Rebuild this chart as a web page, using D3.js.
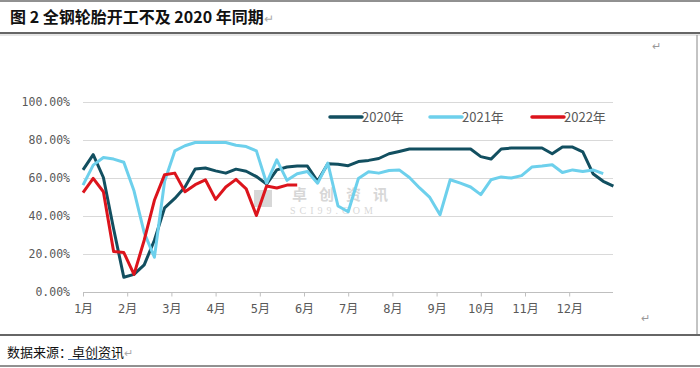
<!DOCTYPE html>
<html>
<head>
<meta charset="utf-8">
<script src="https://cdn.jsdelivr.net/npm/d3@7"></script>
<style>
  body { margin: 0; background: #fff; }
  svg { display: block; font-family: "Noto Sans CJK SC", sans-serif; }
</style>
</head>
<body>
<div id="chart"></div>
<script>
// month labels on the category axis
const months = ["1月", "2月", "3月", "4月", "5月", "6月", "7月", "8月", "9月", "10月", "11月", "12月"];
const yTicks = [0, 20, 40, 60, 80, 100];
const seriesNames = ["2020年", "2021年", "2022年"];
const seriesColors = ["#124f60", "#6dd0ec", "#dc141c"];

// weekly operating rate, %
const s2020 = [64, 72, 60, 33, 7.5, 9, 14, 27, 44, 49, 55, 64.5, 65, 63.5, 62.3, 64.4, 63.3, 60.5, 56.5, 64,
  65.5, 66, 66, 58, 67.3, 67, 66.2, 68.4, 69, 70, 72.5, 73.7, 75, 75, 75, 75, 75, 75, 75, 71,
  69.7, 75, 75.5, 75.5, 75.5, 75.5, 72.5, 76, 76, 73.5, 62, 58, 55.5];
const s2021 = [56, 66.5, 70.5, 69.7, 68, 53, 31, 18, 58, 74, 76.7, 78.4, 78.4, 78.4, 78.4, 77, 76.3, 74, 57, 69.3,
  58.5, 62, 63.2, 57, 67.6, 45, 42, 59.5, 63, 62.3, 63.7, 64, 60, 54.5, 49.5, 40.4, 58.8, 57, 55, 51,
  58.8, 60.3, 59.7, 61, 65.5, 66, 66.7, 62.6, 64, 63.2, 64, 62];
const s2022 = [52, 59.5, 52.5, 21, 20.5, 9, 27, 48, 61.5, 62.3, 52.5, 56.2, 58.8, 48.5, 55, 59, 54, 40, 55.5, 54.5,
  56, 56];

const series = [s2020, s2021, s2022];
const weeksPerMonth = 52 / 12;

const W = 700, H = 368;
const svg = d3.select("#chart").append("svg")
    .attr("width", W)
    .attr("height", H);

// page frame lines (document look)
svg.append("line").attr("x1", 0).attr("x2", W).attr("y1", 1).attr("y2", 1)
    .attr("stroke", "#222").attr("stroke-width", 1);
svg.append("line").attr("x1", 0).attr("x2", W).attr("y1", 33).attr("y2", 33)
    .attr("stroke", "#666").attr("stroke-width", 2);
svg.append("line").attr("x1", 0).attr("x2", W).attr("y1", 35).attr("y2", 35)
    .attr("stroke", "#ccc").attr("stroke-width", 1);
svg.append("line").attr("x1", 697).attr("x2", 697).attr("y1", 35).attr("y2", 334)
    .attr("stroke", "#888").attr("stroke-width", 1);
svg.append("line").attr("x1", 0).attr("x2", W).attr("y1", 335).attr("y2", 335)
    .attr("stroke", "#666").attr("stroke-width", 2);
svg.append("line").attr("x1", 0).attr("x2", W).attr("y1", 366).attr("y2", 366)
    .attr("stroke", "#222").attr("stroke-width", 1);

const title = svg.append("text")
    .attr("x", 10)
    .attr("y", 23)
    .attr("font-size", 16)
    .attr("font-weight", "bold")
    .attr("fill", "#111")
    .text("图 2  全钢轮胎开工不及 2020 年同期");
title.append("tspan").attr("font-weight", "normal").attr("fill", "#aaa").attr("font-size", 12).text("↵");

const foot = svg.append("text")
    .attr("x", 7)
    .attr("y", 357)
    .attr("font-size", 13)
    .attr("fill", "#111")
    .text("数据来源：");
foot.append("tspan").text("卓创资讯");
foot.append("tspan").attr("fill", "#aaa").attr("font-size", 11).text("↵");
svg.append("line").attr("x1", 68).attr("x2", 117).attr("y1", 359.5).attr("y2", 359.5)
    .attr("stroke", "#4a6fa0").attr("stroke-width", 1);

svg.append("text").attr("x", 652).attr("y", 50).attr("font-size", 11).attr("fill", "#999").text("↵");
svg.append("text").attr("x", 641).attr("y", 322).attr("font-size", 11).attr("fill", "#999").text("↵");

// plot
const x = d3.scaleLinear().domain([0, 52]).range([83, 613.4]);
const y = d3.scaleLinear().domain([0, 100]).range([291.5, 101.5]);

svg.append("g")
    .selectAll("line")
    .data(yTicks.filter(d => d > 0))
    .join("line")
    .attr("x1", x(0)).attr("x2", 613)
    .attr("y1", d => Math.round(y(d)) + 0.5).attr("y2", d => Math.round(y(d)) + 0.5)
    .attr("stroke", "#d9d9d9");

const yAxis = svg.append("g")
    .attr("transform", `translate(${x(0)},0)`)
    .call(d3.axisLeft(y).tickValues(yTicks).tickSize(0).tickPadding(13)
        .tickFormat(d => d.toFixed(2) + "%"));
yAxis.select(".domain").remove();
yAxis.selectAll("text")
    .attr("font-family", "'DejaVu Sans Mono', monospace")
    .attr("font-size", 11.5)
    .attr("fill", "#595959");

const xAxis = svg.append("g")
    .attr("transform", `translate(0,${Math.round(y(0)) + 0.5})`)
    .call(d3.axisBottom(x)
        .tickValues(months.map((m, i) => i * weeksPerMonth))
        .tickFormat((d, i) => months[i])
        .tickSize(4).tickSizeOuter(0).tickPadding(8));
xAxis.select(".domain").attr("stroke", "#bfbfbf").attr("d", `M${x(0)},0H613`);
xAxis.selectAll(".tick line").attr("stroke", "#bfbfbf");
xAxis.selectAll("text")
    .attr("font-family", "'DejaVu Sans Mono', 'Noto Sans CJK SC', monospace")
    .attr("font-size", 12)
    .attr("fill", "#595959");

// watermark
const wm = svg.append("g").attr("opacity", 0.55);
wm.append("rect").attr("x", 254).attr("y", 190).attr("width", 18).attr("height", 17).attr("fill", "#b8b8b8");
wm.append("text").attr("x", 292).attr("y", 200).attr("font-size", 15).attr("font-weight", "bold")
    .attr("letter-spacing", 12).attr("fill", "#b8b8b8").text("卓创资讯");
wm.append("text").attr("x", 290).attr("y", 214).attr("font-size", 10).attr("font-family", "'Liberation Serif', serif")
    .attr("letter-spacing", 4).attr("fill", "#b8b8b8").text("SCI99.COM");

const line = d3.line()
    .x((d, i) => x(i))
    .y(d => y(d));

svg.append("g")
    .selectAll("path")
    .data(series)
    .join("path")
    .attr("d", d => line(d))
    .attr("fill", "none")
    .attr("stroke", (d, i) => seriesColors[i])
    .attr("stroke-width", 3)
    .attr("stroke-linejoin", "round");

// legend
const legendX = [330, 430, 532];
const legend = svg.append("g")
    .selectAll("g")
    .data(seriesNames)
    .join("g")
    .attr("transform", (d, i) => `translate(${legendX[i]},117)`);
legend.append("line")
    .attr("x1", 0).attr("x2", 32)
    .attr("stroke", (d, i) => seriesColors[i])
    .attr("stroke-width", 3.5)
    .attr("stroke-linecap", "round");
legend.append("text")
    .attr("x", 32)
    .attr("y", 4.5)
    .attr("font-size", 13)
    .attr("fill", "#595959")
    .text(d => d);
</script>
</body>
</html>
